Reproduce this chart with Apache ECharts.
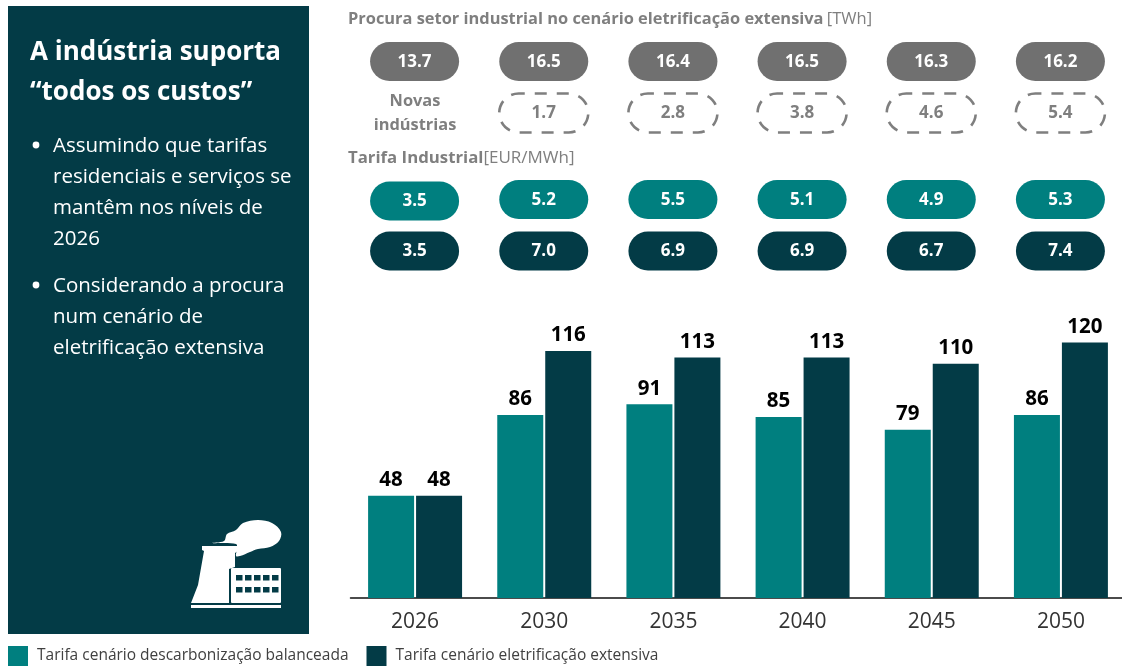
<!DOCTYPE html>
<html><head><meta charset="utf-8">
<style>html,body{margin:0;padding:0;background:#fff}#c{width:1122px;height:668px}</style>
<script src="https://cdn.jsdelivr.net/npm/echarts@6/dist/echarts.min.js"></script>
</head><body><div id="c"></div>
<script>
const years = ['2026','2030','2035','2040','2045','2050'];
const tarifaBalanceada = [48,86,91,85,79,86];
const tarifaExtensiva = [48,116,113,113,110,120];
const procuraTotal = [13.7,16.5,16.4,16.5,16.3,16.2];
const novasIndustrias = [null,1.7,2.8,3.8,4.6,5.4];
const custoBalanceado = [3.5,5.2,5.5,5.1,4.9,5.3];
const custoExtensivo = [3.5,7.0,6.9,6.9,6.7,7.4];
const nomeBalanceada = 'Tarifa cenário descarbonização balanceada';
const nomeExtensiva = 'Tarifa cenário eletrificação extensiva';
const FONT = '"Open Sans","Noto Sans",sans-serif';
const TEAL = '#007f7f', DARK = '#033b46', GREY = '#707070', LGREY = '#7f7f7f';

function pillSeries(name, values, cy, fill, dashed, firstDy) {
  return {
    type: 'custom', name, silent: true, z: 5,
    data: values.map((v, i) => [i, v]),
    encode: {x: 0, y: 1},
    renderItem(params, api) {
      const v = api.value(1);
      if (isNaN(v)) return null;
      const i = api.value(0);
      const cx = api.coord([i, 0])[0] - 0.5;
      const y = cy + (i === 0 ? (firstDy || 0) : 0);
      return {type: 'group', children: [
        {type: 'rect', shape: {x: cx - 44.5, y: y - 19.5, width: 89, height: 39, r: 19.5},
         style: dashed ? {fill: 'none', stroke: LGREY, lineWidth: 2.6, lineDash: [12, 10], lineDashOffset: 6} : {fill}},
        {type: 'text', x: cx, y: y + 0.5, style: {text: v.toFixed(1), align: 'center', verticalAlign: 'middle',
          fill: dashed ? LGREY : '#fff', font: 'bold 17px ' + FONT}}
      ]};
    }
  };
}

const bulletLines = [
  ['Assumindo que tarifas', 146, true], ['residenciais e serviços se', 177], ['mantêm nos níveis de', 208], ['2026', 239],
  ['Considerando a procura', 286, true], ['num cenário de', 317], ['eletrificação extensiva', 348]
];
const panelText = [
  {type:'text', x:30, y:53, style:{text:'A indústria suporta', fill:'#fff', font:'bold 26px '+FONT, verticalAlign:'middle'}},
  {type:'text', x:30, y:93, style:{text:'“todos os custos”', fill:'#fff', font:'bold 26px '+FONT, verticalAlign:'middle'}}
];
bulletLines.forEach(l => {
  panelText.push({type:'text', x:53, y:l[1], style:{text:l[0], fill:'#fff', font:'20.5px '+FONT, verticalAlign:'middle'}});
  if (l[2]) panelText.push({type:'circle', shape:{cx:36, cy:l[1]-1, r:3.4}, style:{fill:'#fff'}});
});
const W = {fill:'#fff'};
const icon = [
  {type:'polygon', shape:{smooth:0.35, points:[[212,543],[224,541],[227,534],[236,530],[243,523],[258,520],[272,523],[281,532],[279,541],[270,547],[258,549],[250,552],[240,556],[236,556],[237,549],[236,544]]}, style:W},
  {type:'polygon', shape:{points:[[202,546],[238,546],[238,551],[235,553],[235,567],[229,569],[229,603],[191,603],[198,585],[204,551],[202,550]]}, style:W},
  {type:'rect', shape:{x:231, y:568, width:50, height:35, r:1}, style:W},
  {type:'rect', shape:{x:191, y:605, width:90, height:3}, style:W}
];
[575,587].forEach(y => [236,245,254,263,272].forEach(x => icon.push({type:'rect', shape:{x, y, width:6.5, height:5.5}, style:{fill:DARK}})));

const chart = echarts.init(document.getElementById('c'));
chart.setOption({
  animation: false,
  backgroundColor: '#fff',
  legend: {
    data: [nomeBalanceada, nomeExtensiva], left: 8, top: 646, padding: 0, itemWidth: 20, itemHeight: 20, itemGap: 18,
    icon: 'rect', selectedMode: false,
    textStyle: {color: '#404040', fontFamily: FONT, fontSize: 15.5, padding: [2,0,0,4]}
  },
  grid: {left: 350.5, top: 300, width: 775, height: 298, containLabel: false, outerBoundsMode: 'none'},
  xAxis: {type: 'category', data: years,
    axisLine: {lineStyle: {color: '#111', width: 1.5}}, axisTick: {show: false},
    axisLabel: {color: '#333', fontFamily: FONT, fontSize: 21, margin: 14}},
  yAxis: {type: 'value', min: 0, max: 140, show: false, splitLine: {show: false}},
  series: [
    {type:'bar', name:nomeBalanceada, data:tarifaBalanceada, barWidth:46, barGap:'4.3%', itemStyle:{color:TEAL},
     label:{show:true, position:'top', distance:5, color:'#000', fontFamily:FONT, fontWeight:'bold', fontSize:20.5}},
    {type:'bar', name:nomeExtensiva, data:tarifaExtensiva, barWidth:46, itemStyle:{color:DARK},
     label:{show:true, position:'top', distance:5, color:'#000', fontFamily:FONT, fontWeight:'bold', fontSize:20.5}},
    pillSeries('Procura total', procuraTotal, 61.5, GREY, false, 0),
    pillSeries('Novas indústrias', novasIndustrias, 113, 'none', true, 0),
    pillSeries('Custo balanceado', custoBalanceado, 199.5, TEAL, false, 1.5),
    pillSeries('Custo extensivo', custoExtensivo, 251, DARK, false, 0)
  ],
  graphic: [
    {type:'rect', z:0, shape:{x:8, y:6, width:301, height:628}, style:{fill:DARK}},
    {type:'group', z:1, children: panelText.concat(icon)},
    {type:'text', x:348, y:19, style:{verticalAlign:'middle', rich:{b:{fill:LGREY, font:'bold 16.4px '+FONT}, n:{fill:LGREY, font:'16.5px '+FONT}}, text:'{b|Procura setor industrial no cenário eletrificação extensiva} {n|[TWh]}'}},
    {type:'text', x:348, y:158, style:{verticalAlign:'middle', rich:{b:{fill:LGREY, font:'bold 16.8px '+FONT}, n:{fill:LGREY, font:'17px '+FONT}}, text:'{b|Tarifa Industrial}{n|[EUR/MWh]}'}},
    {type:'text', x:415, y:101, style:{text:'Novas', align:'center', verticalAlign:'middle', fill:LGREY, font:'bold 16.4px '+FONT}},
    {type:'text', x:415, y:125, style:{text:'indústrias', align:'center', verticalAlign:'middle', fill:LGREY, font:'bold 16.4px '+FONT}}
  ]
});
</script></body></html>
